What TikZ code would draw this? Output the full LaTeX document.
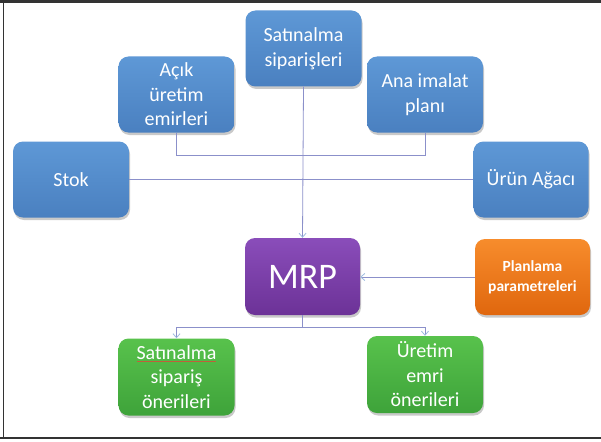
\documentclass[tikz,border=0pt]{standalone}
\usepackage{fontspec}
\setmainfont{Carlito}
\usetikzlibrary{shadows,arrows.meta}
\definecolor{bTop}{HTML}{5E98D6}
\definecolor{bBot}{HTML}{4A80C0}
\definecolor{pTop}{HTML}{8A4DBA}
\definecolor{pBot}{HTML}{6C3297}
\definecolor{oTop}{HTML}{F78C2C}
\definecolor{oBot}{HTML}{E0670E}
\definecolor{gTop}{HTML}{58C24C}
\definecolor{gBot}{HTML}{3EA33A}
\definecolor{lineC}{HTML}{8B90CA}
\definecolor{arrC}{HTML}{9DBBE0}
\definecolor{spellC}{HTML}{C0603A}
\begin{document}
\begin{tikzpicture}[x=1pt,y=-1pt,
  box/.style={rounded corners=10pt, align=center, text=white, inner sep=0pt,
    drop shadow={shadow xshift=1pt, shadow yshift=-2.5pt, opacity=0.35, fill=black!60},
    font=\fontsize{20}{24.5}\selectfont},
  bluebox/.style={box, top color=bTop, bottom color=bBot, minimum width=116pt, minimum height=76pt},
  purplebox/.style={box, top color=pTop, bottom color=pBot, minimum width=115pt, minimum height=77pt,
    font=\fontsize{36}{40}\selectfont},
  orangebox/.style={box, top color=oTop, bottom color=oBot, minimum width=115pt, minimum height=76pt,
    font=\bfseries\fontsize{15.5}{20}\selectfont},
  greenbox/.style={box, top color=gTop, bottom color=gBot, minimum width=116pt, minimum height=77pt},
  conn/.style={draw=lineC, line width=0.8pt},
  arr/.style={conn, -{Straight Barb[length=4pt,width=7pt,color=arrC]}},
  frameline/.style={draw=black!80}
]
\useasboundingbox (0,0) rectangle (601,441);
\fill[white] (0,0) rectangle (601,441);
\draw[frameline, line width=2.6pt] (0,1.3) -- (601,1.3);
\draw[frameline, line width=1.6pt] (3.6,0) -- (3.6,438.5);
\draw[frameline, line width=2pt] (0,438.3) -- (601,438.3);

\node[bluebox] (sat) at (303.5,48.5) {Satınalma\\siparişleri};
\node[bluebox] (acik) at (176.5,94.5) {Açık\\üretim\\emirleri};
\node[bluebox] (ana) at (425,94.5) {Ana imalat\\planı};
\node[bluebox] (stok) at (71,179.5) {Stok};
\node[bluebox, minimum width=115pt] (urun) at (531,179.5) {Ürün Ağacı};
\node[purplebox] (mrp) at (302.5,276.5) {MRP};
\node[orangebox] (plan) at (532.5,277) {Planlama\\parametreleri};
\node[greenbox] (sso) at (176.5,377) {{\color{spellC}\underline{\textcolor{white}{Satınalma}}}\\sipariş\\önerileri};
\node[greenbox] (ueo) at (425,374.5) {Üretim\\emri\\önerileri};

\coordinate (jtop) at (0,155);
\coordinate (jbot) at (0,327);

\draw[conn] (acik.south) -- (acik.south |- jtop) -| (ana.south);
\draw[conn] (stok.east) -- (urun.west);
\draw[arr] (sat.south) -- (mrp.north);
\draw[arr] (plan.west) -- (plan.west -| mrp.east);
\draw[conn] (mrp.south) -- (mrp.south |- jbot);
\draw[conn] (sso.north |- jbot) -- (ueo.north |- jbot);
\draw[arr] (sso.north |- jbot) -- (sso.north);
\draw[arr] (ueo.north |- jbot) -- (ueo.north);
\end{tikzpicture}
\end{document}
